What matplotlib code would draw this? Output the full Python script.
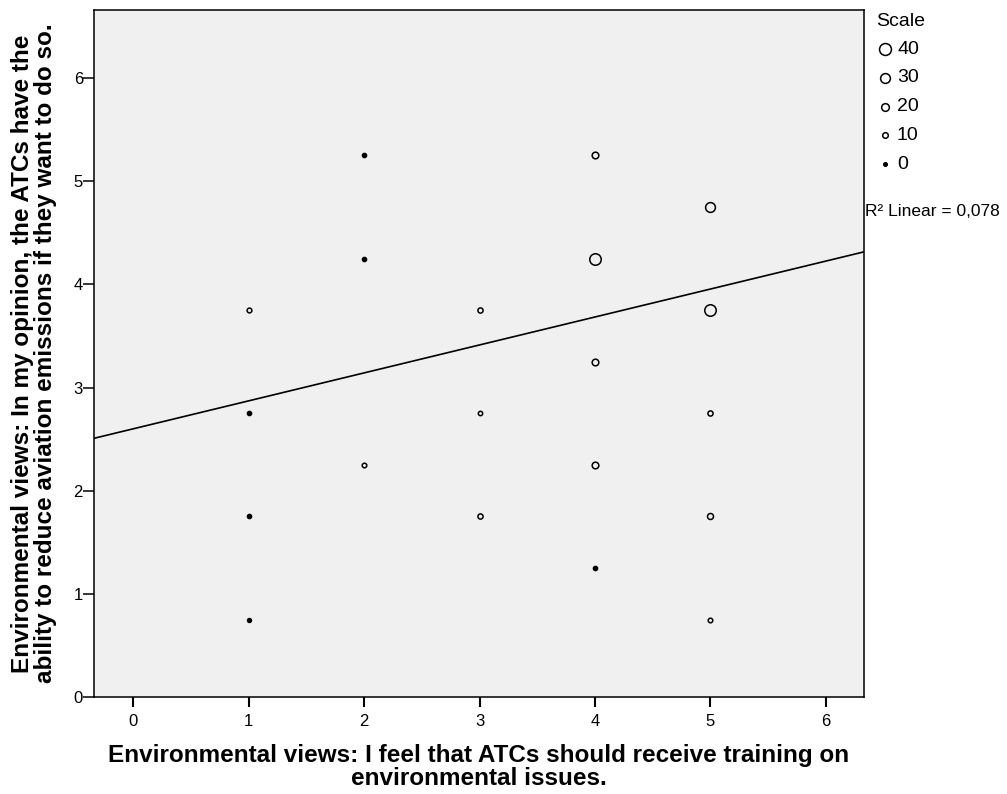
import matplotlib
matplotlib.use("Agg")
import matplotlib.pyplot as plt

plt.rcParams['font.family'] = ['Liberation Sans', 'DejaVu Sans']

# training-view score (x), ability-view score (y), number of respondents at each point
x_vals = [1, 1, 1, 1, 2, 2, 2, 3, 3, 3, 4, 4, 4, 4, 4, 5, 5, 5, 5, 5]
y_vals = [3.75, 2.75, 1.75, 0.75, 5.25, 4.25, 2.25, 3.75, 2.75, 1.75,
          5.25, 4.25, 3.25, 2.25, 1.25, 4.75, 3.75, 2.75, 1.75, 0.75]
counts = [6, 3, 3, 2, 3, 3, 5, 8, 4, 8,
          15, 38, 15, 15, 3, 30, 38, 8, 12, 5]

scale_levels = [40, 30, 20, 10, 0]

# linear fit
intercept = 2.60
slope = 0.271
r_squared = 0.078

xlabel = ("Environmental views: I feel that ATCs should receive training on\n"
          "environmental issues.")
ylabel = ("Environmental views: In my opinion, the ATCs have the\n"
          "ability to reduce aviation emissions if they want to do so.")


def marker_pts(n):
    # circle diameter grows with count; converted px -> pt at 100 dpi
    return (3.5 + 0.21 * n) * 0.72


fig = plt.figure(figsize=(10.07, 7.94), dpi=100)
ax = fig.add_axes([94 / 1007, 97 / 794, 770 / 1007, 687 / 794])
ax.set_facecolor('#f0f0f0')

for x, y, n in zip(x_vals, y_vals, counts):
    ms = marker_pts(n)
    filled = n <= 3
    ax.plot(x, y, 'o', ms=ms, mfc='black' if filled else 'none',
            mec='black', mew=1.1, zorder=3)

ax.axline((0, intercept), slope=slope, color='black', lw=1.2, zorder=2)

ax.set_xlim(-0.34, 6.33)
ax.set_ylim(0, 6.66)
ax.set_xticks(range(0, 7))
ax.set_yticks(range(0, 7))
for s in ax.spines.values():
    s.set_linewidth(1.1)
ax.tick_params(axis='x', direction='out', length=7, width=1.5, pad=5, labelsize=12)
ax.tick_params(axis='y', direction='out', length=8, width=1.1, pad=0, labelsize=12)

ax.set_xlabel(xlabel, fontsize=17.5, fontweight='bold', labelpad=11, linespacing=0.98)
ax.set_ylabel(ylabel, fontsize=17.5, fontweight='bold', labelpad=12, linespacing=0.98)

# bubble size key
fig.text(876 / 1007, 1 - 21 / 794, 'Scale', fontsize=14, va='center', ha='left')
for i, lev in enumerate(scale_levels):
    yy = 1 - (49 + i * 28.8) / 794
    fig.lines.append(plt.Line2D([885 / 1007], [yy], marker='o', ms=marker_pts(lev),
                                mfc='black' if lev == 0 else 'none', mec='black',
                                mew=1.1, transform=fig.transFigure, ls='none'))
    fig.text(897 / 1007, yy, str(lev), fontsize=14, va='center', ha='left')

fig.text(865 / 1007, 1 - 211 / 794,
         'R\u00b2 Linear = ' + f'{r_squared:.3f}'.replace('.', ','),
         fontsize=12.5, va='center', ha='left')

fig.savefig('out.png', dpi=100, facecolor='white')
